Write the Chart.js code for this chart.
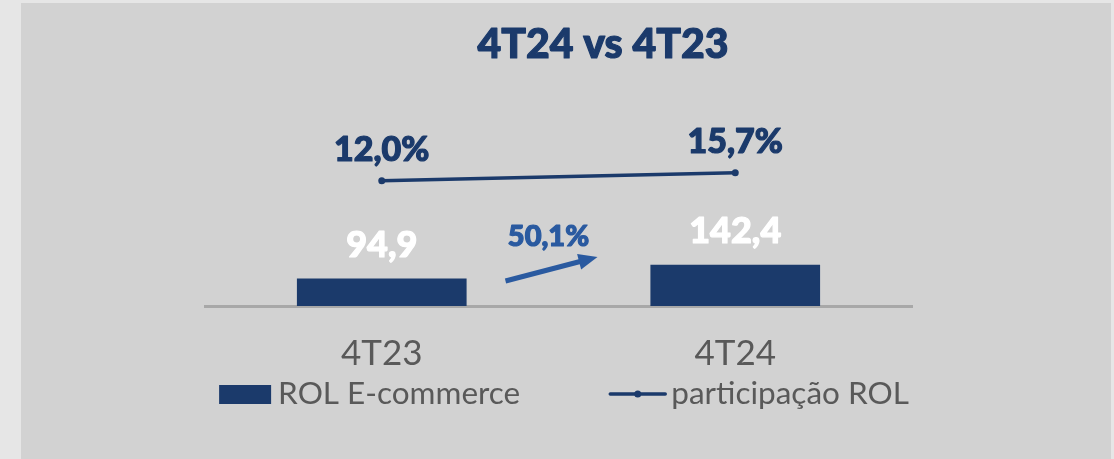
<!DOCTYPE html>
<html>
<head>
<meta charset="utf-8">
<script src="https://cdn.jsdelivr.net/npm/chart.js@4.4.1/dist/chart.umd.min.js"></script>
<style>
  html, body { margin: 0; padding: 0; background: #e6e6e6; overflow: hidden; }
  #panel { position: absolute; left: 21px; top: 3px; width: 1090px; height: 456px; background: #d2d2d2; }
  #wrap { position: absolute; left: 0; top: 0; width: 1114px; height: 459px; }
</style>
</head>
<body>
<div id="panel"></div>
<div id="wrap"><canvas id="chart" width="1114" height="459"></canvas></div>
<script>
// chart data
const categories = ["4T23", "4T24"];
const rolEcommerce = [94.9, 142.4];     // bars
const participacaoRol = [12.0, 15.7];   // line (%)
const seriesNames = ["ROL E-commerce", "participação ROL"];
const chartTitle = "4T24 vs 4T23";

const navy = "#1b3a6b";
const arrowBlue = "#2a5aa0";
const greyText = "#595959";

// numbers use a comma for decimals
const fmt = (v) => v.toFixed(1).replace(".", ",");

// heavy text: fill plus a thin stroke of the same colour
const heavyText = (ctx, text, x, y, color) => {
  ctx.fillStyle = color;
  ctx.strokeStyle = color;
  ctx.lineWidth = 1.2;
  ctx.lineJoin = "round";
  ctx.fillText(text, x, y);
  ctx.strokeText(text, x, y);
};

// draws the title, value labels, growth arrow and legend
const overlay = {
  id: "overlay",
  afterDraw(chart) {
    const ctx = chart.ctx;
    const area = chart.chartArea;
    ctx.save();
    ctx.textAlign = "center";
    ctx.textBaseline = "alphabetic";

    // title
    ctx.font = "900 41px Lato";
    heavyText(ctx, chartTitle, 603, 58, navy);

    // bar values
    const bars = chart.getDatasetMeta(0).data;
    ctx.font = "900 36px Lato";
    bars.forEach((b, i) => heavyText(ctx, fmt(rolEcommerce[i]), b.x, b.y - 22, "#ffffff"));

    // line values
    const pts = chart.getDatasetMeta(1).data;
    ctx.font = "900 34px Lato";
    pts.forEach((p, i) => heavyText(ctx, fmt(participacaoRol[i]) + "%", p.x, p.y - 20, navy));

    // growth between the two bars
    const growth = (rolEcommerce[1] / rolEcommerce[0] - 1) * 100;
    const mid = (bars[0].x + bars[1].x) / 2;
    const base = area.bottom;
    const x0 = mid - 53, y0 = base - 25;
    const x1 = mid + 39, y1 = base - 49;
    const ang = Math.atan2(y1 - y0, x1 - x0);
    ctx.strokeStyle = arrowBlue;
    ctx.fillStyle = arrowBlue;
    ctx.lineWidth = 5;
    ctx.beginPath();
    ctx.moveTo(x0, y0);
    ctx.lineTo(x1 - 14 * Math.cos(ang), y1 - 14 * Math.sin(ang));
    ctx.stroke();
    ctx.beginPath();
    ctx.moveTo(x1, y1);
    ctx.lineTo(x1 - 19 * Math.cos(ang) + 8 * Math.sin(ang), y1 - 19 * Math.sin(ang) - 8 * Math.cos(ang));
    ctx.lineTo(x1 - 19 * Math.cos(ang) - 8 * Math.sin(ang), y1 - 19 * Math.sin(ang) + 8 * Math.cos(ang));
    ctx.closePath();
    ctx.fill();
    ctx.font = "900 29px Lato";
    heavyText(ctx, fmt(growth) + "%", mid - 10, base - 60, arrowBlue);

    // legend
    ctx.font = "31.5px Lato";
    ctx.textAlign = "left";
    const w1 = ctx.measureText(seriesNames[0]).width;
    const w2 = ctx.measureText(seriesNames[1]).width;
    const total = 52 + 7 + w1 + 90 + 55 + 6 + w2;
    let lx = 564 - total / 2;
    const ly = 394;
    ctx.fillStyle = navy;
    ctx.fillRect(lx, ly - 9, 52, 19);
    ctx.fillStyle = greyText;
    ctx.fillText(seriesNames[0], lx + 59, ly + 10);
    lx += 59 + w1 + 90;
    ctx.strokeStyle = navy;
    ctx.lineWidth = 3.5;
    ctx.lineCap = "round";
    ctx.beginPath();
    ctx.moveTo(lx, ly);
    ctx.lineTo(lx + 55, ly);
    ctx.stroke();
    ctx.fillStyle = navy;
    ctx.beginPath();
    ctx.arc(lx + 27.5, ly, 3.5, 0, Math.PI * 2);
    ctx.fill();
    ctx.fillStyle = greyText;
    ctx.fillText(seriesNames[1], lx + 61, ly + 10);
    ctx.restore();
  }
};

const chart = new Chart(document.getElementById("chart"), {
  data: {
    labels: categories,
    datasets: [
      {
        type: "bar",
        label: seriesNames[0],
        data: rolEcommerce,
        backgroundColor: navy,
        barPercentage: 0.6,
        categoryPercentage: 0.8,
        yAxisID: "y",
      },
      {
        type: "line",
        label: seriesNames[1],
        data: participacaoRol,
        borderColor: navy,
        borderWidth: 3.5,
        pointRadius: 3.5,
        pointBackgroundColor: navy,
        pointBorderWidth: 0,
        yAxisID: "y1",
      },
    ],
  },
  options: {
    responsive: false,
    devicePixelRatio: 1,
    animation: false,
    layout: { padding: { top: 60, left: 205, right: 202, bottom: 57 } },
    plugins: {
      legend: { display: false },
      title: { display: false },
      tooltip: { enabled: false },
    },
    scales: {
      x: {
        z: 1,
        grid: { display: false, drawTicks: false },
        border: { display: true, color: "#a8a8a8", width: 3 },
        ticks: { font: { family: "Lato", size: 35 }, color: greyText, padding: 27 },
      },
      y: { display: false, min: 0, max: 850 },
      y1: { display: false, min: -46, max: 68 },
    },
  },
  plugins: [overlay],
});
</script>
</body>
</html>
